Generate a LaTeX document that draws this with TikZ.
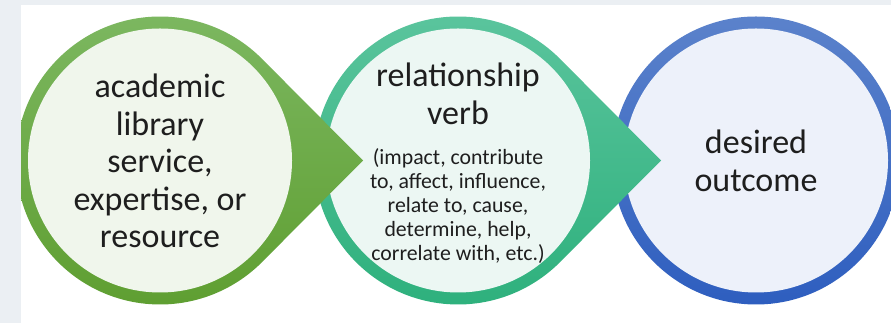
\documentclass[tikz,border=0pt]{standalone}
\usepackage{fontspec}
\setmainfont{Carlito}
\usetikzlibrary{calc}
\definecolor{bgc}{HTML}{EBEFF3}
\definecolor{greentop}{HTML}{7DB862}
\definecolor{greenbot}{HTML}{5E9E30}
\definecolor{greenfill}{HTML}{F0F6EC}
\definecolor{tealtop}{HTML}{5CC59E}
\definecolor{tealbot}{HTML}{2DB07C}
\definecolor{tealfill}{HTML}{ECF7F3}
\definecolor{bluetop}{HTML}{5B82CB}
\definecolor{bluebot}{HTML}{2E5EBF}
\definecolor{bluefill}{HTML}{EDF1FA}
\definecolor{txt}{HTML}{1E1E1E}
\begin{document}
\begin{tikzpicture}[x=1pt,y=1pt,
  bigtext/.style={align=center,text=txt,inner sep=0pt,font=\fontsize{34}{37.5}\selectfont},
  smalltext/.style={align=center,text=txt,inner sep=0pt,font=\fontsize{21.8}{24}\selectfont}]
\useasboundingbox (0,0) rectangle (891,323);
\fill[bgc] (0,0) rectangle (891,323);
\fill[white] (21,0) rectangle (891,318);
\begin{scope}
\clip (21,0) rectangle (891,318);
\coordinate (cg) at (160,162.5);
\coordinate (ct) at (458,162.5);
\coordinate (cb) at (756,162.5);
\coordinate (tg) at (363,162.5);
\coordinate (tt) at (661,162.5);
% blue circle
\shade[top color=bluetop,bottom color=bluebot] (cb) circle[radius=144];
\fill[bluefill] (cb) circle[radius=132];
% teal teardrop
\shade[top color=tealtop,bottom color=tealbot] (tt) -- ($(ct)+(44.8:144)$) arc[start angle=44.8,end angle=315.2,radius=144] -- cycle;
\fill[tealfill] (ct) circle[radius=132];
% green teardrop
\shade[top color=greentop,bottom color=greenbot] (tg) -- ($(cg)+(44.8:144)$) arc[start angle=44.8,end angle=315.2,radius=144] -- cycle;
\fill[greenfill] (cg) circle[radius=132];
\end{scope}
\node[bigtext] (t1) at (160,162) {academic\\library\\service,\\expertise, or\\resource};
\node[bigtext] (t2) at (458,229) {relationship\\verb};
\node[smalltext] (t3) at (458,117) {(impact, contribute\\to, affect, influence,\\relate to, cause,\\determine, help,\\correlate with, etc.)};
\node[bigtext] (t4) at (756,162) {desired\\outcome};
\end{tikzpicture}
\end{document}
